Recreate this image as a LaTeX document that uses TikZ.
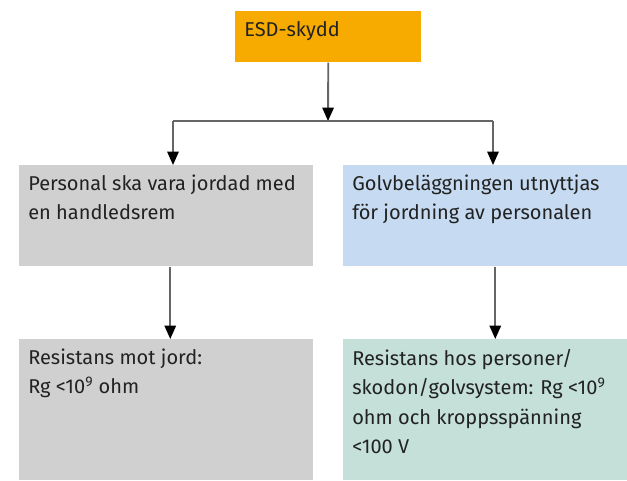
\documentclass[tikz,border=0pt]{standalone}
\usepackage{fontspec}
\setmainfont{Fira Sans}
\usepackage{tikz}
\usetikzlibrary{calc,positioning,arrows.meta}
\usepackage{xcolor}
\definecolor{esdc}{RGB}{247,171,0}
\definecolor{bandc}{RGB}{208,208,208}
\definecolor{golvc}{RGB}{198,219,241}
\definecolor{resc}{RGB}{196,224,217}
\definecolor{inkc}{RGB}{34,34,34}
\newcommand{\cellbody}[3]{\parbox[t][#2][t]{#1}{\raggedright #3}}
\tikzset{
  cell/.style={anchor=north west,inner xsep=6.75pt,inner ysep=7.5pt,font=\fontsize{15}{21.5}\selectfont,text=inkc},
  flow/.style={line width=1.4pt,black!60},
  % arrows end on the box edges
  dflow/.style={flow,-{Triangle[length=10pt,width=8.5pt,black]}},
}
\begin{document}
\begin{tikzpicture}[x=0.75pt,y=-0.75pt]
  \useasboundingbox (0,0) rectangle (627,480);
  % ---- top ----
  \node[cell,fill=esdc] (esd) at (235,11) {\cellbody{126pt}{23.25pt}{ESD-skydd}};
  % ---- middle row ----
  \node[cell,fill=bandc] (band) at (19,165) {\cellbody{207pt}{60.75pt}{Personal ska vara jordad med\\en handledsrem}};
  \node[cell,fill=golvc] (golv) at (343,165) {\cellbody{199.5pt}{60.75pt}{Golvbeläggningen utnyttjas\\för jordning av personalen}};
  % ---- bottom row ----
  \node[cell,fill=bandc] (resband) at (19,339) {\cellbody{207pt}{90.75pt}{Resistans mot jord:\\Rg <10\textsuperscript{9} ohm}};
  \node[cell,fill=resc,font=\fontsize{15}{22}\selectfont] (resgolv) at (343,339) {\cellbody{199.5pt}{90.75pt}{Resistans hos personer/\\skodon/golvsystem: Rg <10\textsuperscript{9}\\ohm och kroppsspänning\\<100 V}};
  % ---- split ----
  \coordinate (split) at (328,121);
  \coordinate (jl) at (173,121);
  \coordinate (jr) at (493,121);
  \draw[dflow] (esd.south) -- (split);
  \draw[flow] (jl) -- (jr);
  \draw[dflow] (jl) -- (jl |- band.north);
  \draw[dflow] (jr) -- (jr |- golv.north);
  \draw[dflow] ([xshift=3pt]band.south) -- ([xshift=3pt]resband.north);
  \draw[dflow] ([xshift=7.5pt]golv.south) -- ([xshift=7.5pt]resgolv.north);
\end{tikzpicture}
\end{document}
